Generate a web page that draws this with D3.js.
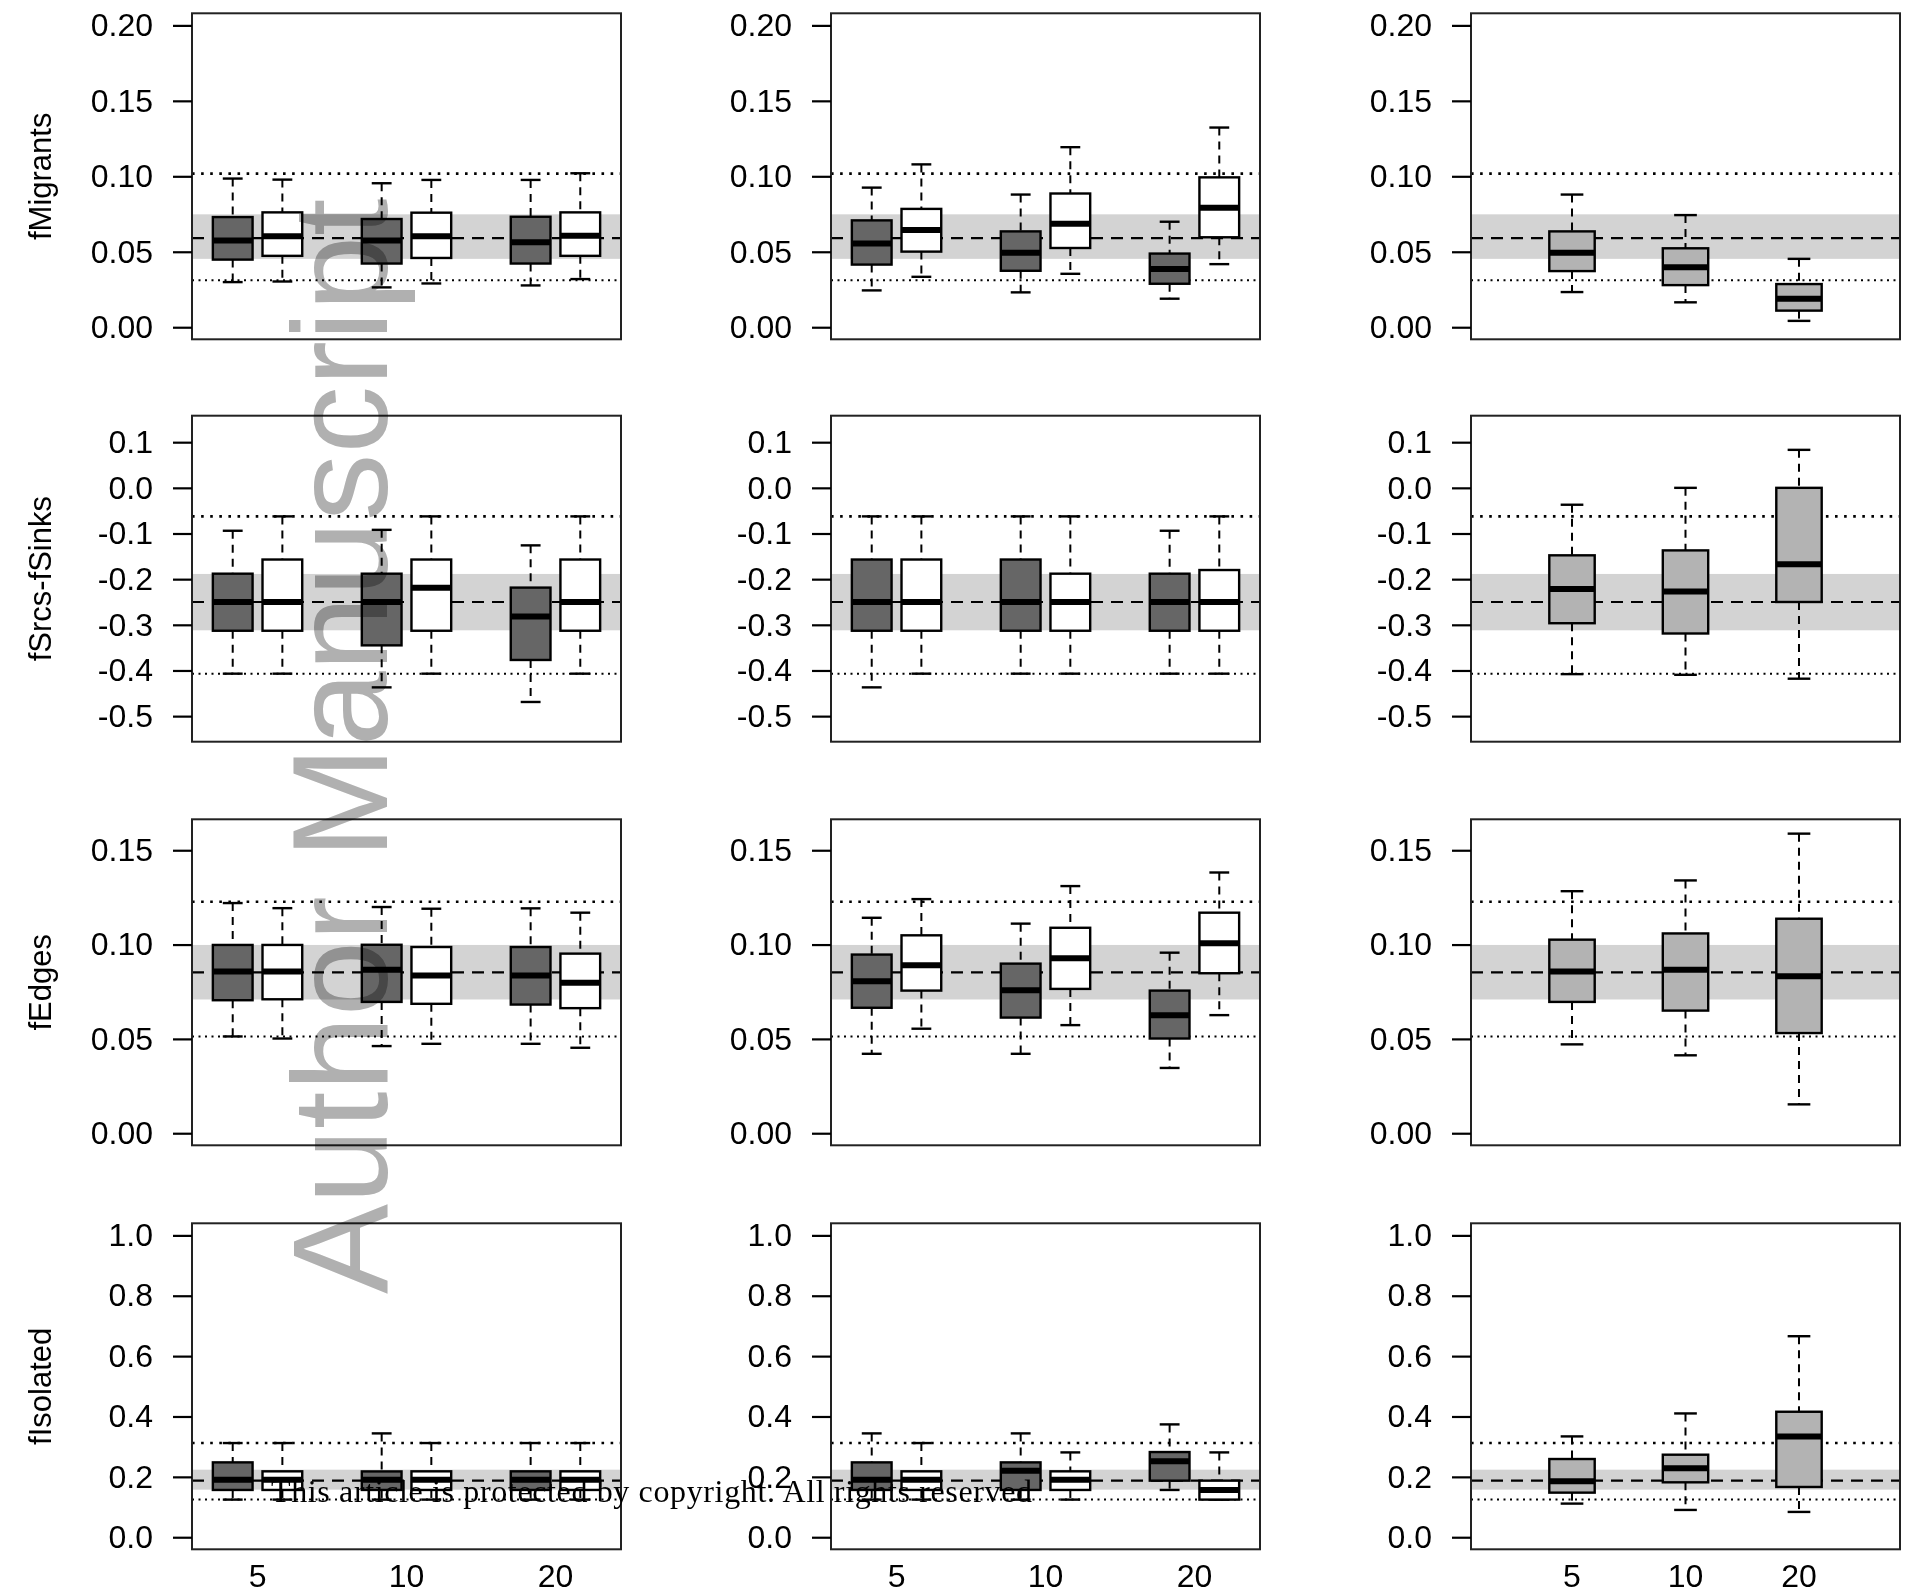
<!DOCTYPE html>
<html>
<head>
<meta charset="utf-8">
<script src="https://cdn.jsdelivr.net/npm/d3@7"></script>
<style>
body { margin: 0; background: #fff; }
svg { display: block; }
text { font-family: "Liberation Sans", Arial, sans-serif; }
</style>
</head>
<body>
<div id="chart"></div>
<script>
// panel rows (metrics) and x groups
const metrics = ['fMigrants', 'fSrcs-fSinks', 'fEdges', 'fIsolated'];
const groups = ['5', '10', '20'];

// y ticks per row
const yTicks = [
    [0, 0.05, 0.10, 0.15, 0.20],
    [-0.5, -0.4, -0.3, -0.2, -0.1, 0.0, 0.1],
    [0, 0.05, 0.10, 0.15],
    [0, 0.2, 0.4, 0.6, 0.8, 1.0]
];
const yTickLabels = [
    ['0.00', '0.05', '0.10', '0.15', '0.20'],
    ['-0.5', '-0.4', '-0.3', '-0.2', '-0.1', '0.0', '0.1'],
    ['0.00', '0.05', '0.10', '0.15'],
    ['0.0', '0.2', '0.4', '0.6', '0.8', '1.0']
];
const yDomains = [[-0.008, 0.208], [-0.556, 0.158], [-0.0064, 0.1664], [-0.04, 1.04]];

// reference band, mean line and dotted limits per row
const bandLo = [0.0453, -0.312, 0.0709, 0.1577];
const bandHi = [0.0748, -0.1886, 0.0998, 0.2238];
const meanLine = [0.0591, -0.25, 0.0853, 0.1874];
const dotLo = [0.0312, -0.4073, 0.0513, 0.1246];
const dotHi = [0.1018, -0.0625, 0.1227, 0.312];

// box stats [lower whisker, q1, median, q3, upper whisker]; per row: [col1 (6), col2 (6), col3 (3)]
const fMigrants = [
    [[0.0299, 0.0448, 0.0574, 0.0730, 0.0985], [0.0303, 0.0473, 0.0602, 0.0761, 0.0978],
     [0.0264, 0.0422, 0.0574, 0.0717, 0.0954], [0.0290, 0.0459, 0.0602, 0.0759, 0.0976],
     [0.0277, 0.0422, 0.0563, 0.0732, 0.0976], [0.0319, 0.0473, 0.0606, 0.0761, 0.1020]],
    [[0.0244, 0.0415, 0.0554, 0.0708, 0.0925], [0.0334, 0.0501, 0.0644, 0.0784, 0.1079],
     [0.0231, 0.0374, 0.0494, 0.0635, 0.0879], [0.0354, 0.0525, 0.0686, 0.0886, 0.1193],
     [0.0189, 0.0288, 0.0385, 0.0488, 0.0699], [0.0418, 0.0596, 0.0791, 0.0993, 0.1323]],
    [[0.0233, 0.0372, 0.0494, 0.0635, 0.0879], [0.0165, 0.0279, 0.0398, 0.0523, 0.0743],
     [0.0042, 0.0110, 0.0189, 0.0286, 0.0453]]
];
const fSrcsSinks = [
    [[-0.407, -0.313, -0.25, -0.188, -0.094], [-0.407, -0.313, -0.25, -0.157, -0.0625],
     [-0.437, -0.345, -0.25, -0.188, -0.092], [-0.407, -0.313, -0.219, -0.157, -0.0625],
     [-0.469, -0.377, -0.282, -0.2185, -0.126], [-0.407, -0.313, -0.25, -0.157, -0.0625]],
    [[-0.437, -0.313, -0.25, -0.157, -0.0625], [-0.407, -0.313, -0.25, -0.157, -0.0625],
     [-0.407, -0.313, -0.25, -0.157, -0.0625], [-0.407, -0.313, -0.25, -0.188, -0.0625],
     [-0.407, -0.313, -0.25, -0.188, -0.094], [-0.407, -0.313, -0.25, -0.18, -0.0625]],
    [[-0.408, -0.2965, -0.2214, -0.1478, -0.037], [-0.4095, -0.319, -0.227, -0.137, 0.0],
     [-0.418, -0.25, -0.1675, 0.0, 0.0832]]
];
const fEdges = [
    [[0.0513, 0.0705, 0.0857, 0.0998, 0.1220], [0.0502, 0.0710, 0.0857, 0.0998, 0.1193],
     [0.0462, 0.0696, 0.0867, 0.0999, 0.1199], [0.0474, 0.0686, 0.0836, 0.0987, 0.1190],
     [0.0474, 0.0682, 0.0836, 0.0987, 0.1192], [0.0453, 0.0663, 0.0797, 0.0952, 0.1169]],
    [[0.0421, 0.0665, 0.0806, 0.0947, 0.1142], [0.0554, 0.0756, 0.0890, 0.1049, 0.1241],
     [0.0421, 0.0613, 0.0758, 0.0899, 0.1111], [0.0573, 0.0765, 0.0927, 0.1089, 0.1310],
     [0.0346, 0.0502, 0.0626, 0.0756, 0.0957], [0.0626, 0.0848, 0.1007, 0.1169, 0.1382]],
    [[0.0471, 0.0696, 0.0857, 0.1026, 0.1283], [0.0413, 0.0650, 0.0867, 0.1059, 0.1340],
     [0.0153, 0.0531, 0.0832, 0.1137, 0.1588]]
];
const fIsolated = [
    [[0.1246, 0.1566, 0.1907, 0.248, 0.312], [0.1246, 0.1566, 0.1907, 0.2183, 0.312],
     [0.1246, 0.1566, 0.1907, 0.218, 0.344], [0.1246, 0.1566, 0.1907, 0.2183, 0.312],
     [0.1246, 0.1566, 0.1907, 0.2183, 0.312], [0.1246, 0.1566, 0.1907, 0.2183, 0.312]],
    [[0.1246, 0.1566, 0.1907, 0.248, 0.344], [0.1246, 0.1566, 0.1907, 0.2183, 0.312],
     [0.1246, 0.1566, 0.2205, 0.248, 0.344], [0.1246, 0.1566, 0.1907, 0.2183, 0.281],
     [0.1566, 0.1874, 0.2514, 0.2822, 0.3738], [0.1246, 0.1246, 0.1566, 0.1874, 0.281]],
    [[0.1114, 0.1477, 0.1852, 0.2591, 0.334], [0.0904, 0.1819, 0.2282, 0.2734, 0.4101],
     [0.0838, 0.1665, 0.334, 0.4157, 0.6659]]
];
const rowData = [fMigrants, fSrcsSinks, fEdges, fIsolated];

// box positions in each column
const pairedAt = [1, 2, 4, 5, 7, 8];
const pairedLabelAt = [1.5, 4.5, 7.5];
const singleAt = [1, 2, 3];

const W = 1905, H = 1596;
const colLeft = [192, 831, 1471], plotW = 429;
const rowTop = [13.3, 415.7, 819.3, 1223.3], plotH = 326;

const svg = d3.select('#chart').append('svg').attr('width', W).attr('height', H);

const xPaired = d3.scaleLinear().domain([0.18, 8.82]).range([0, plotW]);
const xSingle = d3.scaleLinear().domain([0.11, 3.89]).range([0, plotW]);

function hline(g, yv, width, dash) {
    g.append('line')
        .attr('x1', 0).attr('x2', plotW)
        .attr('y1', yv).attr('y2', yv)
        .attr('stroke', '#000')
        .attr('stroke-width', width)
        .attr('stroke-dasharray', dash)
}

metrics.forEach((metric, r) => {
    const y = d3.scaleLinear().domain(yDomains[r]).range([plotH, 0]);
    for (let c = 0; c < 3; c++) {
        const g = svg.append('g')
            .attr('transform', `translate(${colLeft[c]},${rowTop[r]})`);
        const single = c === 2;
        const x = single ? xSingle : xPaired;
        const at = single ? singleAt : pairedAt;
        const bw = single ? 0.4 : 0.8;
        const stats = rowData[r][c];

        // reference band and lines
        g.append('rect')
            .attr('x', 0).attr('width', plotW)
            .attr('y', y(bandHi[r]))
            .attr('height', y(bandLo[r]) - y(bandHi[r]))
            .attr('fill', '#d3d3d3');
        hline(g, y(dotHi[r]), 2.6, '2.6,6.5');
        hline(g, y(dotLo[r]), 2, '2,4.5');
        hline(g, y(meanLine[r]), 2.2, '12,8');

        const box = g.selectAll('.box').data(stats).join('g').attr('class', 'box');
        box.each(function (s, i) {
            const b = d3.select(this);
            const cx = x(at[i]);
            const half = (x(at[i] + bw / 2) - x(at[i] - bw / 2)) / 2;
            const cap = half * 0.5;
            const fill = single ? '#b3b3b3' : (i % 2 === 0 ? '#666666' : '#ffffff');
            // whiskers
            b.append('line').attr('x1', cx).attr('x2', cx)
                .attr('y1', y(s[4])).attr('y2', y(s[3]))
                .attr('stroke', '#000').attr('stroke-width', 2).attr('stroke-dasharray', '8,6');
            b.append('line').attr('x1', cx).attr('x2', cx)
                .attr('y1', y(s[1])).attr('y2', y(s[0]))
                .attr('stroke', '#000').attr('stroke-width', 2).attr('stroke-dasharray', '8,6');
            // staples
            [s[0], s[4]].forEach(v => {
                b.append('line').attr('x1', cx - cap).attr('x2', cx + cap)
                    .attr('y1', y(v)).attr('y2', y(v))
                    .attr('stroke', '#000').attr('stroke-width', 2.4);
            });
            b.append('rect')
                .attr('x', cx - half).attr('width', half * 2)
                .attr('y', y(s[3])).attr('height', y(s[1]) - y(s[3]))
                .attr('fill', fill).attr('stroke', '#000').attr('stroke-width', 2.4);
            b.append('line').attr('x1', cx - half).attr('x2', cx + half)
                .attr('y1', y(s[2])).attr('y2', y(s[2]))
                .attr('stroke', '#000').attr('stroke-width', 6);
        });

        // frame
        g.append('rect')
            .attr('width', plotW).attr('height', plotH)
            .attr('fill', 'none').attr('stroke', '#222').attr('stroke-width', 2);

        const yAxis = d3.axisLeft(y)
            .tickValues(yTicks[r])
            .tickFormat((d, i) => yTickLabels[r][i])
            .tickSize(19)
            .tickPadding(20);
        const ag = g.append('g').call(yAxis);
        ag.select('.domain').remove();
        ag.selectAll('.tick line').attr('stroke', '#000').attr('stroke-width', 2.2);
        ag.selectAll('.tick text')
            .attr('fill', '#000')
            .style('font-size', '32px')
            .style('font-family', '"Liberation Sans", Arial, sans-serif');

        if (r === metrics.length - 1) {
            const labelAt = single ? singleAt : pairedLabelAt;
            g.selectAll('.xlab').data(groups).join('text')
                .attr('x', (d, i) => x(labelAt[i]))
                .attr('y', 1587 - rowTop[r])
                .attr('text-anchor', 'middle')
                .style('font-size', '32px')
                .text(d => d);
        }
    }

    svg.append('text')
        .attr('transform', `translate(40,${rowTop[r] + plotH / 2}) rotate(-90)`)
        .attr('text-anchor', 'middle')
        .attr('dy', '0.35em')
        .style('font-size', '31px')
        .text(metric);
});

// watermark and notice
svg.append('text')
    .attr('transform', 'translate(386.5,1294) rotate(-90)')
    .attr('fill', '#b0b0b0')
    .style('mix-blend-mode', 'multiply')
    .style('font-size', '135px')
    .text('Author Manuscript');

svg.append('text')
    .attr('x', 271).attr('y', 1502)
    .attr('textLength', 761)
    .style('font-family', '"Liberation Serif", "Times New Roman", serif')
    .style('font-size', '32px')
    .text('This article is protected by copyright. All rights reserved');
</script>
</body>
</html>
